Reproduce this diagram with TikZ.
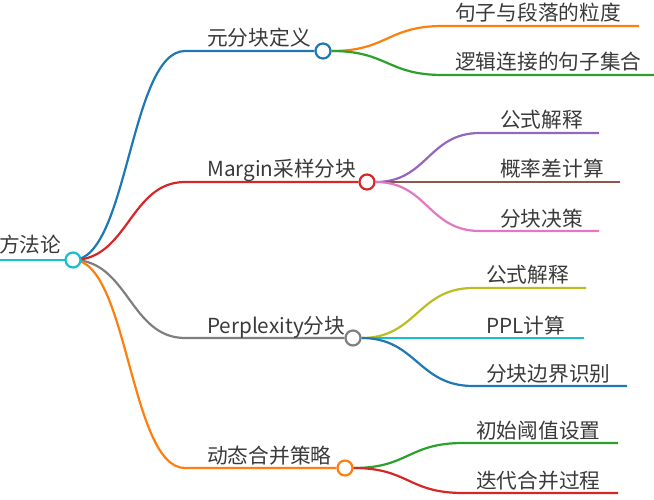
\documentclass[tikz,border=0pt]{standalone}
\usepackage{fontspec}
\setmainfont{Noto Sans CJK SC}
\definecolor{cBlue}{HTML}{1F77B4}
\definecolor{cOrange}{HTML}{FF7F0E}
\definecolor{cGreen}{HTML}{2CA02C}
\definecolor{cRed}{HTML}{D62728}
\definecolor{cPurple}{HTML}{9467BD}
\definecolor{cBrown}{HTML}{8C564B}
\definecolor{cPink}{HTML}{E377C2}
\definecolor{cGray}{HTML}{7F7F7F}
\definecolor{cOlive}{HTML}{BCBD22}
\definecolor{cCyan}{HTML}{17BECF}
\definecolor{txt}{HTML}{3A3A3A}
\begin{document}
\begin{tikzpicture}[x=1pt,y=-1pt,
  dot/.style={circle,draw=#1,fill=white,line width=2.2pt,minimum size=15pt,inner sep=0pt},
  lbl/.style={anchor=base west,inner sep=0pt,text=txt,font=\fontsize{20.7}{24}\selectfont},
  br/.style={line width=2.2pt,draw=#1}]
\useasboundingbox (0,0) rectangle (654,500);

% root
\coordinate (r0) at (0,260);
\draw[br=cCyan] (r0) -- (73,260);
\node[lbl] (tRoot) at (-1,253) {方法论};

% branch 1
\coordinate (b1s) at (185,51);
\node[dot=cBlue] (b1) at (323,51) {};
\draw[br=cBlue] (73,260) .. controls +(55,0) and +(-55,0) .. (b1s) -- (b1.west);
\node[lbl] (t1) at (207,46) {元分块定义};
\coordinate (c11s) at (443,26); \coordinate (c11e) at (639,26);
\coordinate (c12s) at (443,75); \coordinate (c12e) at (654,75);
\draw[br=cOrange] (b1.east) .. controls +(56,0) and +(-56,0) .. (c11s) -- (c11e);
\draw[br=cGreen] (b1.east) .. controls +(56,0) and +(-56,0) .. (c12s) -- (c12e);
\node[lbl] (t11) at (455,21) {句子与段落的粒度};
\node[lbl] (t12) at (455,70) {逻辑连接的句子集合};

% branch 2
\coordinate (b2s) at (185,182);
\node[dot=cRed] (b2) at (367,182) {};
\draw[br=cRed] (73,260) .. controls +(55,0) and +(-55,0) .. (b2s) -- (b2.west);
\node[lbl] (t2) at (207,177) {Margin采样分块};
\coordinate (c21s) at (480,133); \coordinate (c21e) at (599,133);
\coordinate (c22e) at (620,182);
\coordinate (c23s) at (480,231); \coordinate (c23e) at (599,231);
\draw[br=cPurple] (b2.east) .. controls +(52,0) and +(-52,0) .. (c21s) -- (c21e);
\draw[br=cBrown] (b2.east) -- (c22e);
\draw[br=cPink] (b2.east) .. controls +(52,0) and +(-52,0) .. (c23s) -- (c23e);
\node[lbl] (t21) at (500,128) {公式解释};
\node[lbl] (t22) at (500,177) {概率差计算};
\node[lbl] (t23) at (500,226) {分块决策};

% branch 3
\coordinate (b3s) at (185,338);
\node[dot=cGray] (b3) at (353,338) {};
\draw[br=cGray] (73,260) .. controls +(55,0) and +(-55,0) .. (b3s) -- (b3.west);
\node[lbl] (t3) at (207,333) {Perplexity分块};
\coordinate (c31s) at (473,288); \coordinate (c31e) at (586,288);
\coordinate (c32e) at (584,338);
\coordinate (c33s) at (473,386); \coordinate (c33e) at (627,386);
\draw[br=cOlive] (b3.east) .. controls +(55,0) and +(-55,0) .. (c31s) -- (c31e);
\draw[br=cCyan] (b3.east) -- (c32e);
\draw[br=cBlue] (b3.east) .. controls +(55,0) and +(-55,0) .. (c33s) -- (c33e);
\node[lbl] (t31) at (486,283) {公式解释};
\node[lbl] (t32) at (486,333) {PPL计算};
\node[lbl] (t33) at (486,381) {分块边界识别};

% branch 4
\coordinate (b4s) at (185,468);
\node[dot=cOrange] (b4) at (345,468) {};
\draw[br=cOrange] (73,260) .. controls +(55,0) and +(-55,0) .. (b4s) -- (b4.west);
\node[lbl] (t4) at (207,463) {动态合并策略};
\coordinate (c41s) at (463,443); \coordinate (c41e) at (618,443);
\coordinate (c42s) at (463,493); \coordinate (c42e) at (618,493);
\draw[br=cGreen] (b4.east) .. controls +(55,0) and +(-55,0) .. (c41s) -- (c41e);
\draw[br=cRed] (b4.east) .. controls +(55,0) and +(-55,0) .. (c42s) -- (c42e);
\node[lbl] (t41) at (476,438) {初始阈值设置};
\node[lbl] (t42) at (476,488) {迭代合并过程};

% root dot on top
\node[dot=cCyan] (root) at (73,260) {};
\end{tikzpicture}
\end{document}
